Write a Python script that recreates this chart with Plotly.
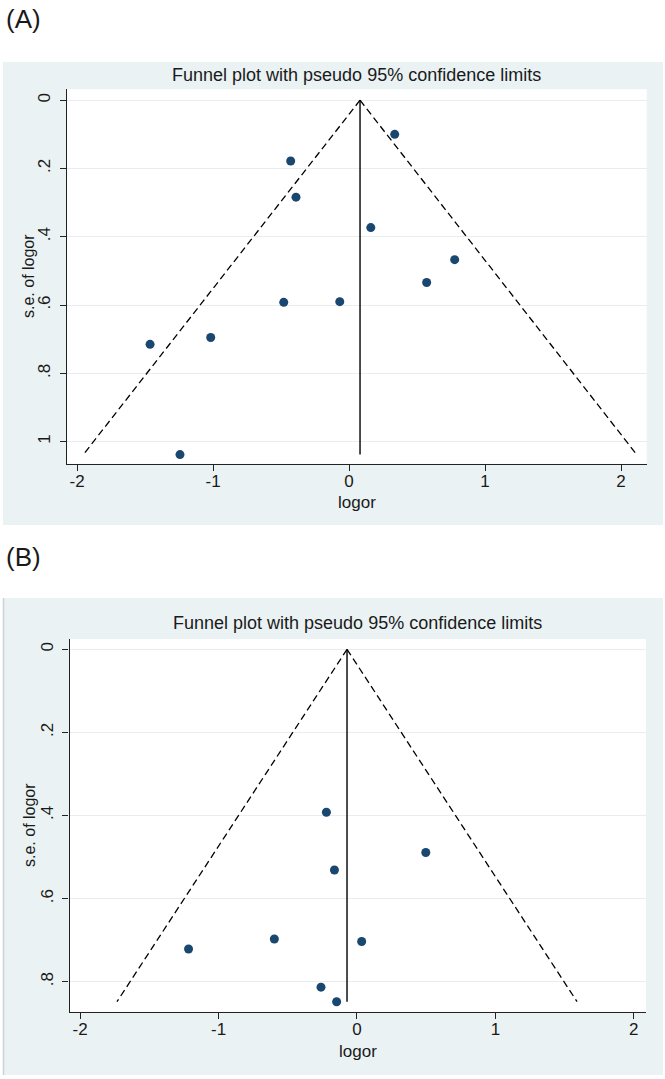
import plotly.graph_objects as go

# ---------------- data ----------------
A_logor = [0.336, -0.429, -0.390, 0.160, 0.777, 0.571, -0.480, -0.068, -1.017, -1.463, -1.243]
A_se = [0.100, 0.178, 0.284, 0.373, 0.467, 0.534, 0.592, 0.590, 0.695, 0.715, 1.038]
A_pooled = 0.081

B_logor = [-0.221, -0.163, 0.497, -0.597, -1.217, 0.034, -0.260, -0.147]
B_se = [0.392, 0.531, 0.489, 0.697, 0.721, 0.703, 0.813, 0.848]
B_pooled = -0.072

x_ticks = [-2, -1, 0, 1, 2]
x_ticktext = ["-2", "-1", "0", "1", "2"]
A_yticks = [0, 0.2, 0.4, 0.6, 0.8, 1.0]
A_yticktext = ["0", ".2", ".4", ".6", ".8", "1"]
B_yticks = [0, 0.2, 0.4, 0.6, 0.8]
B_yticktext = ["0", ".2", ".4", ".6", ".8"]

title_text = "Funnel plot with pseudo 95% confidence limits"
x_title = "logor"
y_title = "s.e. of logor"
panel_labels = ["(A)", "(B)"]

# ---------------- styling ----------------
W, H = 665, 1079
BG = "#EAF2F3"
NAVY = "#1A476F"
FONT = "Liberation Sans, Arial, sans-serif"
TXT = "#1a1a1a"


def px(x):
    return x / W


def py(y):
    return 1 - y / H


fig = go.Figure()


def add_panel(xref, yref, logor, se, pooled):
    smax = max(se)
    # pseudo 95% CI lines (from apex downward)
    for sgn in (-1, 1):
        fig.add_trace(go.Scatter(
            x=[pooled, pooled + sgn * 1.96 * smax], y=[0, smax],
            mode="lines", line=dict(color="black", width=1.3, dash="7px,4px"),
            xaxis=xref, yaxis=yref, showlegend=False, hoverinfo="skip"))
    # pooled estimate vertical line
    fig.add_trace(go.Scatter(
        x=[pooled, pooled], y=[0, smax], mode="lines",
        line=dict(color="black", width=1.4),
        xaxis=xref, yaxis=yref, showlegend=False, hoverinfo="skip"))
    # studies
    fig.add_trace(go.Scatter(
        x=logor, y=se, mode="markers",
        marker=dict(color=NAVY, size=9, line=dict(width=0)),
        xaxis=xref, yaxis=yref, showlegend=False))


add_panel("x", "y", A_logor, A_se, A_pooled)
add_panel("x2", "y2", B_logor, B_se, B_pooled)

axis_common = dict(
    showline=True, linecolor="#222", linewidth=1.2,
    ticks="outside", ticklen=6, tickwidth=1.2, tickcolor="#222",
    tickfont=dict(family=FONT, size=17, color=TXT),
    zeroline=False, mirror=False,
)

fig.update_layout(
    width=W, height=H, autosize=False,
    margin=dict(l=0, r=0, t=0, b=0),
    paper_bgcolor="white", plot_bgcolor="rgba(0,0,0,0)",
    font=dict(family=FONT, color=TXT),
    xaxis=dict(domain=[px(66.7), px(646.7)], range=[-2.076, 2.189],
               tickvals=x_ticks, ticktext=x_ticktext, showgrid=False,
               ticklabelstandoff=-4,
               anchor="y", **axis_common),
    yaxis=dict(domain=[py(463.8), py(89.3)], range=[1.065, -0.032],
               tickvals=A_yticks, ticktext=A_yticktext, tickangle=-90,
               ticklabelstandoff=3,
               showgrid=True, gridcolor="#E6EEF0", gridwidth=1.2,
               anchor="x", **axis_common),
    xaxis2=dict(domain=[px(69.5), px(646)], range=[-2.077, 2.088],
                tickvals=x_ticks, ticktext=x_ticktext, showgrid=False,
                ticklabelstandoff=-4,
                anchor="y2", **axis_common),
    yaxis2=dict(domain=[py(1011.7), py(639)], range=[0.872, -0.0248],
                tickvals=B_yticks, ticktext=B_yticktext, tickangle=-90,
                ticklabelstandoff=3,
                showgrid=True, gridcolor="#E6EEF0", gridwidth=1.2,
                anchor="x2", **axis_common),
)

shapes = [
    # panel backgrounds
    dict(type="rect", xref="paper", yref="paper", x0=px(3), x1=px(663), y0=py(525), y1=py(62),
         fillcolor=BG, line=dict(width=0), layer="below"),
    dict(type="rect", xref="x domain", yref="y domain", x0=0, x1=1, y0=0, y1=1,
         fillcolor="white", line=dict(width=0), layer="below"),
    dict(type="rect", xref="paper", yref="paper", x0=px(3), x1=px(663), y0=py(1075), y1=py(598),
         fillcolor=BG, line=dict(width=0), layer="below"),
    dict(type="line", xref="paper", yref="paper", x0=px(3.5), x1=px(3.5), y0=py(1075), y1=py(598),
         line=dict(color="#CDD3D5", width=1.5), layer="below"),
    dict(type="rect", xref="x2 domain", yref="y2 domain", x0=0, x1=1, y0=0, y1=1,
         fillcolor="white", line=dict(width=0), layer="below"),
]
fig.update_layout(shapes=shapes)

ann = []
# panel labels
ann.append(dict(text=panel_labels[0], x=px(4), y=py(19), xanchor="left", yanchor="middle",
                showarrow=False, xref="paper", yref="paper", font=dict(size=26, family=FONT, color=TXT)))
ann.append(dict(text=panel_labels[1], x=px(4), y=py(557), xanchor="left", yanchor="middle",
                showarrow=False, xref="paper", yref="paper", font=dict(size=26, family=FONT, color=TXT)))
# titles
for cx, cy in [(356.7, 75), (357.7, 623)]:
    ann.append(dict(text=title_text, x=px(cx), y=py(cy), xanchor="center", yanchor="middle",
                    showarrow=False, xref="paper", yref="paper", font=dict(size=18, family=FONT, color=TXT)))
# x titles
for cx, cy in [(356.7, 502), (357.7, 1051)]:
    ann.append(dict(text=x_title, x=px(cx), y=py(cy), xanchor="center", yanchor="middle",
                    showarrow=False, xref="paper", yref="paper", font=dict(size=17, family=FONT, color=TXT)))
# y titles
for cx, cy in [(28, 276), (29, 825)]:
    ann.append(dict(text=y_title, x=px(cx), y=py(cy), xanchor="center", yanchor="middle", textangle=-90,
                    showarrow=False, xref="paper", yref="paper", font=dict(size=16, family=FONT, color=TXT)))
fig.update_layout(annotations=ann)

fig.write_html("out.html", config={"displayModeBar": False},
               post_script="document.body.style.margin='0';document.body.style.overflow='hidden';")
